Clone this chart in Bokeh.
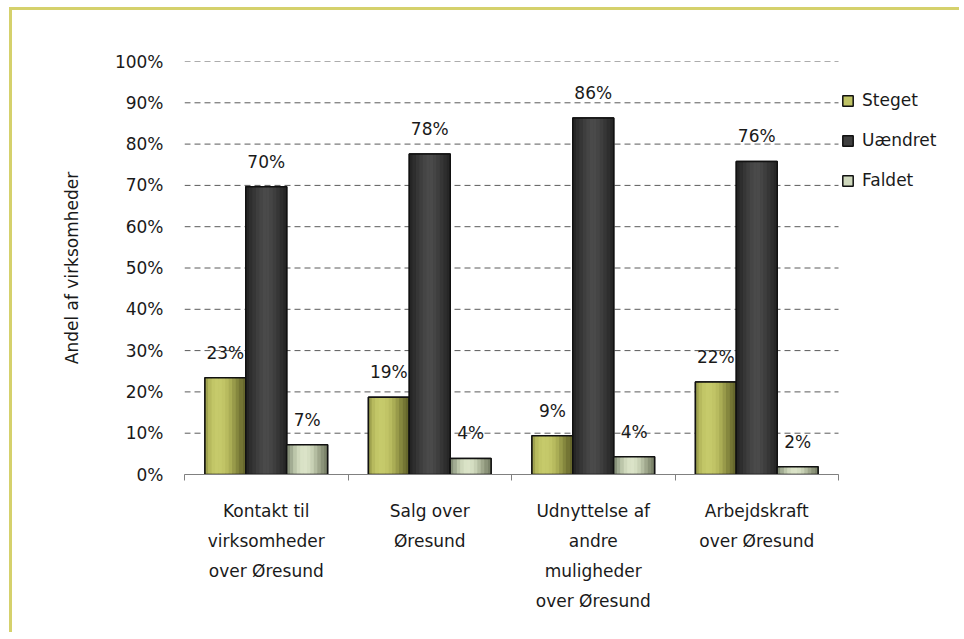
import numpy as np
from bokeh.plotting import figure
from bokeh.models import (ColumnDataSource, Legend, LegendItem, FixedTicker,
                          PrintfTickFormatter, Range1d)
from bokeh.core.properties import value
from bokeh.embed import file_html
from bokeh.resources import INLINE

# ---------------- data ----------------
categories = [
    "Kontakt til\nvirksomheder\nover Øresund",
    "Salg over\nØresund",
    "Udnyttelse af\nandre\nmuligheder\nover Øresund",
    "Arbejdskraft\nover Øresund",
]
series_names = ["Steget", "Uændret", "Faldet"]
steget = [23.4, 18.7, 9.4, 22.4]
uaendret = [69.7, 77.6, 86.3, 75.8]
faldet = [7.2, 3.9, 4.3, 1.9]
y_ticks = [0, 10, 20, 30, 40, 50, 60, 70, 80, 90, 100]
y_axis_title = "Andel af virksomheder"

# ---------------- styles ----------------
FONT = "DejaVu Sans"
FS = "17px"
TXT = "#1a1a1a"
profiles = {
    "Steget": ["#9fa24f", "#b7ba5e", "#c2c667", "#c6ca6b", "#c5c96a", "#c1c466",
               "#b8bb5f", "#aaad55", "#989a4a", "#85873e", "#747534", "#66672c"],
    "Uændret": ["#262626", "#2e2e2e", "#363636", "#3e3e3e", "#454545", "#4a4a4a",
                "#4a4a4a", "#454545", "#3e3e3e", "#363636", "#2e2e2e", "#272727"],
    "Faldet": ["#87917a", "#a2ac93", "#bcc6aa", "#cfd8bc", "#d9e2c6", "#dbe3c8",
               "#d5dec2", "#c8d1b5", "#b4bda1", "#9fa78c", "#8b9379", "#7c846b"],
}
mid_colors = {"Steget": "#bfc365", "Uændret": "#3f3f3f", "Faldet": "#cfd8bc"}

values = {"Steget": steget, "Uændret": uaendret, "Faldet": faldet}
n = len(categories)
centers = np.arange(n) + 0.5
bw = 0.25
offsets = {"Steget": -bw, "Uændret": 0.0, "Faldet": bw}

# plot area extends to the right so the legend can live inside it
FRAME_L, AXIS_R, FRAME_R = 184, 838, 960
x_end = n * (FRAME_R - FRAME_L) / (AXIS_R - FRAME_L)

p = figure(width=950, height=625, output_backend="svg", toolbar_location=None,
           x_range=Range1d(0, x_end), y_range=Range1d(0, 100),
           min_border_left=172, min_border_top=51, min_border_bottom=161,
           min_border_right=2)
p.outline_line_color = None
p.background_fill_color = "white"
p.border_fill_color = "white"
p.styles = {"border-top": "3px solid #d5d16c", "border-left": "3px solid #d5d16c",
            "margin-top": "7px", "margin-left": "9px"}

# grid (only across the category area)
p.xgrid.visible = False
p.ygrid.visible = False
p.segment(x0=[0] * len(y_ticks), x1=[n] * len(y_ticks), y0=y_ticks, y1=y_ticks,
          line_color="#5a5a5a", line_dash="6 4", line_width=1)

# bars
legend_items = []
nslices = len(profiles["Steget"])
for name in series_names:
    vals = values[name]
    xs = centers + offsets[name]
    base = p.vbar(x=xs, top=vals, bottom=0, width=bw,
                  fill_color=mid_colors[name], line_color="#111111", line_width=1.5)
    sw = bw / nslices
    for k, col in enumerate(profiles[name]):
        sx = xs - bw / 2 + (k + 0.5) * sw
        p.vbar(x=sx, top=vals, bottom=0, width=sw * 1.08,
               fill_color=col, line_color=None)
    p.vbar(x=xs, top=vals, bottom=0, width=bw,
           fill_color=None, line_color="#111111", line_width=1.5)
    legend_items.append(LegendItem(label=name, renderers=[base]))

# value labels
lx, ly, lt = [], [], []
for name in series_names:
    for c, v in zip(centers + offsets[name], values[name]):
        lx.append(c)
        ly.append(v)
        lt.append(f"{v:.0f}%")
lsrc = ColumnDataSource(dict(x=lx, y=ly, t=lt))
p.text(x="x", y="y", text="t", source=lsrc, text_align="center",
       text_baseline="alphabetic", y_offset=-25,
       text_font=value(FONT), text_font_size=FS, text_color=TXT)

# x axis
xa = p.xaxis[0]
xa.bounds = (0, n)
xa.ticker = FixedTicker(ticks=list(centers), minor_ticks=list(range(n + 1)))
xa.major_label_overrides = {float(c): lab for c, lab in zip(centers, categories)}
xa.major_tick_in = 0
xa.major_tick_out = 0
xa.minor_tick_in = 0
xa.minor_tick_out = 6
xa.minor_tick_line_color = "#808080"
xa.axis_line_color = "#808080"
xa.major_label_standoff = 20
xa.major_label_text_font = FONT
xa.major_label_text_font_size = FS
xa.major_label_text_color = TXT
xa.major_label_text_line_height = 1.5

# y axis
ya = p.yaxis[0]
ya.ticker = FixedTicker(ticks=y_ticks)
ya.formatter = PrintfTickFormatter(format="%d%%")
ya.axis_line_color = None
ya.major_tick_line_color = None
ya.minor_tick_line_color = None
ya.major_label_standoff = 15
ya.major_label_text_font = FONT
ya.major_label_text_font_size = FS
ya.major_label_text_color = TXT
ya.axis_label = y_axis_title
ya.axis_label_text_font = FONT
ya.axis_label_text_font_size = FS
ya.axis_label_text_font_style = "normal"
ya.axis_label_text_color = TXT
ya.axis_label_standoff = 30

legend = Legend(items=legend_items, location=(AXIS_R - FRAME_L + 3, 284),
                orientation="vertical",
                glyph_width=13, glyph_height=13, label_height=20, spacing=20,
                label_standoff=8, padding=10, margin=0,
                label_text_font=FONT, label_text_font_size=FS,
                label_text_color=TXT, border_line_color=None,
                background_fill_alpha=0)
p.add_layout(legend, "center")

open("out.html", "w").write(file_html(p, INLINE))
